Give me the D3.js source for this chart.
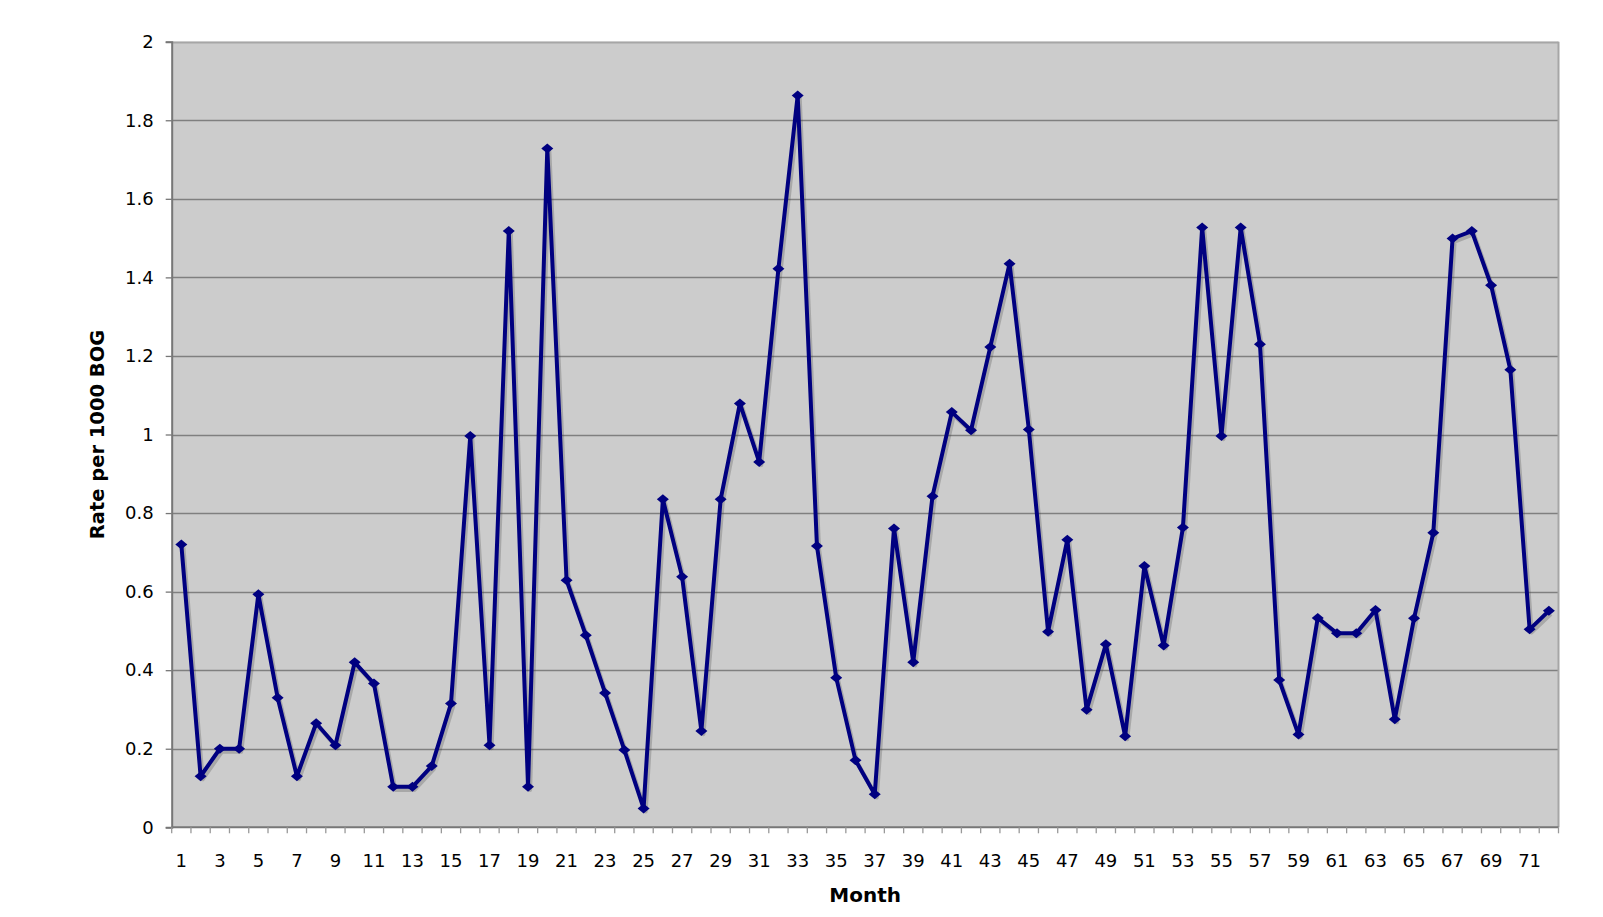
<!DOCTYPE html>
<html>
<head>
<meta charset="utf-8">
<script src="https://cdn.jsdelivr.net/npm/d3@7"></script>
<style>
  html, body { margin: 0; padding: 0; background: #ffffff; }
  svg { display: block; }
  text { font-family: "DejaVu Sans", Verdana, sans-serif; fill: #000; }
</style>
</head>
<body>
<svg id="chart" width="1603" height="917"></svg>
<script>
// ---- data ----
const months = d3.range(1, 73);
const rates = [
  0.72, 0.13, 0.20, 0.20, 0.593, 0.33, 0.13, 0.265, 0.209, 0.42,
  0.366, 0.103, 0.103, 0.156, 0.315, 0.996, 0.209, 1.518, 0.103, 1.728,
  0.629, 0.489, 0.342, 0.197, 0.048, 0.835, 0.638, 0.245, 0.835, 1.079,
  0.930, 1.422, 1.863, 0.716, 0.381, 0.171, 0.084, 0.761, 0.42, 0.843,
  1.057, 1.011, 1.223, 1.435, 1.013, 0.498, 0.732, 0.299, 0.466, 0.232,
  0.665, 0.463, 0.763, 1.527, 0.996, 1.527, 1.23, 0.375, 0.236, 0.533,
  0.494, 0.494, 0.553, 0.275, 0.532, 0.75, 1.499, 1.518, 1.380, 1.165,
  0.504, 0.551
];
const yTicks = [0, 0.2, 0.4, 0.6, 0.8, 1, 1.2, 1.4, 1.6, 1.8, 2];
const xTickLabels = months.filter(m => m % 2 === 1);
const yTitle = "Rate per 1000 BOG";
const xTitle = "Month";

// ---- layout ----
const L = 171.7, R = 1558.5, T = 41.7, B = 827.3;
const svg = d3.select("#chart");

const x = d3.scaleBand().domain(months).range([L, R]).paddingInner(0).paddingOuter(0);
const y = d3.scaleLinear().domain([0, 2]).range([B, T]);

// plot background
svg.append("rect")
  .attr("x", L).attr("y", T).attr("width", R - L).attr("height", B - T)
  .attr("fill", "#cccccc");

// gridlines
svg.append("g").selectAll("line")
  .data(yTicks.filter(v => v > 0))
  .join("line")
  .attr("x1", L).attr("x2", R)
  .attr("y1", d => Math.round(y(d)) + 0.5).attr("y2", d => Math.round(y(d)) + 0.5)
  .attr("stroke", d => d === 2 ? "#a6a6a6" : "#7f7f7f")
  .attr("stroke-width", d => d === 2 ? 2 : 1.3);

// right border
svg.append("line")
  .attr("x1", R).attr("x2", R).attr("y1", T).attr("y2", B)
  .attr("stroke", "#a6a6a6").attr("stroke-width", 2);

// y axis
const yAxis = d3.axisLeft(y).tickValues(yTicks).tickSize(6).tickPadding(12)
  .tickFormat(d => d3.format("")(+d.toFixed(1)));
const gy = svg.append("g").attr("transform", `translate(${L},0)`).call(yAxis);
gy.select(".domain").attr("stroke", "#777777").attr("stroke-width", 2);
gy.selectAll(".tick line").attr("stroke", "#777777").attr("stroke-width", 1.3);
gy.selectAll(".tick text").style("font-size", "18px")
  .style("font-family", '"DejaVu Sans", Verdana, sans-serif').attr("fill", "#000");

// x axis: ticks at band boundaries, labels at odd months
const xb = d3.scaleLinear().domain([0.5, 72.5]).range([L, R]);
const boundaries = d3.range(0.5, 73, 1);
const gx = svg.append("g");
gx.append("line").attr("x1", L).attr("x2", R).attr("y1", B).attr("y2", B)
  .attr("stroke", "#777777").attr("stroke-width", 2);
gx.selectAll("line.tk").data(boundaries).join("line").attr("class", "tk")
  .attr("x1", d => xb(d)).attr("x2", d => xb(d))
  .attr("y1", B).attr("y2", B + 6)
  .attr("stroke", "#999999").attr("stroke-width", 1.3);
gx.selectAll("text").data(xTickLabels).join("text")
  .attr("x", d => x(d) + x.bandwidth() / 2)
  .attr("y", B + 40)
  .attr("text-anchor", "middle")
  .style("font-size", "18px")
  .text(d => d);

// axis titles
svg.append("text")
  .attr("transform", `translate(${104},${(T + B) / 2}) rotate(-90)`)
  .attr("text-anchor", "middle")
  .style("font-size", "19.5px").style("font-weight", "bold")
  .text(yTitle);
svg.append("text")
  .attr("x", (L + R) / 2).attr("y", B + 75)
  .attr("text-anchor", "middle")
  .style("font-size", "20px").style("font-weight", "bold")
  .text(xTitle);

// series
const pts = months.map((m, i) => ({ m, v: rates[i] }));
const cx = d => x(d.m) + x.bandwidth() / 2;
const line = d3.line().x(cx).y(d => y(d.v));

// shadow
svg.append("path").datum(pts)
  .attr("d", line)
  .attr("transform", "translate(2,3)")
  .attr("fill", "none").attr("stroke", "rgba(60,60,60,0.25)")
  .attr("stroke-width", 4.2).attr("stroke-linejoin", "round");

svg.append("path").datum(pts)
  .attr("d", line)
  .attr("fill", "none").attr("stroke", "#000080")
  .attr("stroke-width", 4).attr("stroke-linejoin", "round");

// diamond markers (12 wide x 10 tall)
const diamond = {
  draw(ctx) {
    ctx.moveTo(0, -5); ctx.lineTo(6, 0); ctx.lineTo(0, 5); ctx.lineTo(-6, 0); ctx.closePath();
  }
};
const sym = d3.symbol().type(diamond);
svg.append("g").selectAll("path").data(pts).join("path")
  .attr("d", sym)
  .attr("transform", d => `translate(${cx(d)},${y(d.v)})`)
  .attr("fill", "#000080");
</script>
</body>
</html>
